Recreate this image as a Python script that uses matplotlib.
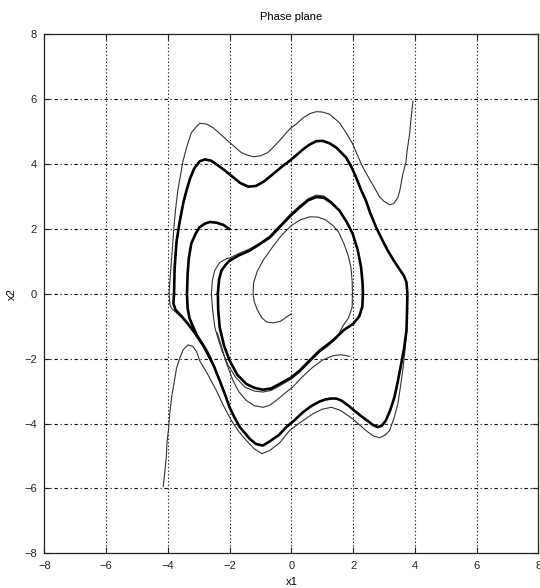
import matplotlib
matplotlib.use('Agg')
import matplotlib.pyplot as plt

# large closed orbit (thick)
big_x1 = [-3.8, -3.78, -3.72, -3.62, -3.5, -3.4, -3.28, -3.15, -2.97, -2.8, -2.6, -2.43, -2.2, -2.0,
          -1.67, -1.4, -1.15, -0.9, -0.6, -0.3, -0.06, 0.2, 0.38, 0.6, 0.81, 1.02, 1.25, 1.46, 1.78,
          1.95, 2.1, 2.25, 2.42, 2.55, 2.75, 2.95, 3.13, 3.32, 3.5, 3.65, 3.73, 3.76, 3.75, 3.73, 3.65,
          3.56, 3.45, 3.34, 3.2, 3.06, 2.93, 2.8, 2.65, 2.53, 2.3, 2.1, 1.85, 1.62, 1.45, 1.29, 1.1,
          0.92, 0.65, 0.38, 0.1, -0.16, -0.4, -0.7, -0.92, -1.15, -1.35, -1.5, -1.67, -1.85, -2.0,
          -2.15, -2.32, -2.5, -2.75, -2.95, -3.18, -3.35, -3.55, -3.75, -3.82, -3.8]
big_x2 = [0.0, 0.8, 1.6, 2.2, 2.8, 3.17, 3.55, 3.85, 4.08, 4.14, 4.1, 3.99, 3.83, 3.68,
          3.42, 3.3, 3.32, 3.45, 3.68, 3.92, 4.09, 4.3, 4.45, 4.6, 4.7, 4.71, 4.63, 4.5, 4.19,
          3.9, 3.58, 3.22, 2.86, 2.5, 2.04, 1.65, 1.32, 1.02, 0.76, 0.55, 0.35, 0.0, -0.5, -1.14, -1.7,
          -2.16, -2.7, -3.19, -3.6, -3.91, -4.07, -4.11, -4.05, -3.96, -3.8, -3.65, -3.45, -3.29, -3.23, -3.23, -3.26,
          -3.32, -3.46, -3.65, -3.9, -4.11, -4.35, -4.55, -4.68, -4.63, -4.47, -4.3, -4.11, -3.8, -3.5,
          -3.1, -2.68, -2.25, -1.75, -1.45, -1.14, -0.93, -0.7, -0.5, -0.3, 0.0]

# inner closed orbit (thick)
inn_x1 = [-2.38, -2.34, -2.26, -2.12, -2.0, -1.7, -1.35, -1.15, -0.7, -0.38, -0.05, 0.27, 0.55, 0.81,
          1.05, 1.3, 1.56, 1.8, 1.99, 2.15, 2.26, 2.31, 2.32, 2.3, 2.2, 2.0, 1.7, 1.46, 1.2, 0.92,
          0.6, 0.27, 0.0, -0.38, -0.65, -0.92, -1.2, -1.46, -1.75, -2.0, -2.18, -2.32, -2.37, -2.38]
inn_x2 = [0.0, 0.45, 0.72, 0.9, 1.02, 1.18, 1.33, 1.45, 1.73, 2.05, 2.38, 2.66, 2.88, 2.98,
          2.96, 2.8, 2.56, 2.2, 1.84, 1.35, 0.81, 0.3, 0.0, -0.4, -0.7, -0.93, -1.12, -1.34, -1.55, -1.75,
          -2.05, -2.37, -2.58, -2.78, -2.92, -2.96, -2.9, -2.78, -2.5, -2.06, -1.6, -1.04, -0.5, 0.0]

# thick trajectory starting at (-2, 2)
t3_x1 = [-2.0, -2.2, -2.43, -2.64, -2.8, -2.97, -3.1, -3.24, -3.32, -3.36, -3.38, -3.36, -3.3, -3.2,
         -3.05, -2.85, -2.6]
t3_x2 = [1.99, 2.12, 2.19, 2.21, 2.16, 2.05, 1.85, 1.55, 1.1, 0.61, 0.0, -0.45, -0.75, -0.98,
         -1.3, -1.6, -2.05]

# thin trajectory from the top right
t1_x1 = [3.94, 3.88, 3.83, 3.75, 3.71, 3.61, 3.52, 3.45, 3.32, 3.18, 3.0, 2.86, 2.75, 2.55, 2.32,
         2.15, 1.99, 1.8, 1.56, 1.24, 1.0, 0.81, 0.6, 0.38, 0.15, -0.06, -0.38, -0.6, -0.76, -1.0,
         -1.22, -1.45, -1.62, -2.0, -2.3, -2.54, -2.75, -2.97, -3.1, -3.24, -3.38, -3.51, -3.6,
         -3.68, -3.75, -3.8, -3.86, -3.92, -3.96, -3.93, -3.88, -3.65, -3.4, -3.18, -2.95]
t1_x2 = [5.94, 5.42, 4.91, 4.4, 4.04, 3.68, 3.2, 2.96, 2.78, 2.74, 2.85, 2.98, 3.17, 3.5, 3.89,
         4.25, 4.61, 4.92, 5.27, 5.53, 5.6, 5.61, 5.55, 5.42, 5.22, 5.07, 4.72, 4.5, 4.35, 4.25,
         4.22, 4.28, 4.35, 4.66, 4.92, 5.12, 5.23, 5.25, 5.12, 4.96, 4.55, 4.09, 3.6,
         3.17, 2.6, 2.09, 1.3, 0.6, 0.0, -0.35, -0.45, -0.65, -0.88, -1.14, -1.45]

# thin trajectory from the bottom left
t2_x1 = [-4.15, -4.1, -4.05, -4.03, -3.98, -3.94, -3.88, -3.8, -3.72, -3.62, -3.5, -3.35, -3.2, -3.07,
         -2.97, -2.7, -2.43, -2.2, -1.94, -1.7, -1.46, -1.2, -0.95, -0.7, -0.38, -0.06, 0.27, 0.7,
         1.0, 1.3, 1.6, 1.99, 2.42, 2.65, 2.86, 3.05, 3.18, 3.32, 3.45, 3.53, 3.61, 3.68, 3.74, 3.76]
t2_x2 = [-5.95, -5.5, -5.04, -4.6, -4.2, -3.7, -3.2, -2.75, -2.3, -2.0, -1.72, -1.58, -1.62, -1.78,
         -2.06, -2.5, -2.98, -3.45, -3.91, -4.25, -4.52, -4.78, -4.93, -4.83, -4.6, -4.22, -3.98, -3.7,
         -3.56, -3.5, -3.6, -3.86, -4.22, -4.38, -4.44, -4.35, -4.22, -3.85, -3.4, -2.9, -2.37, -1.75, -1.14, -0.5]

# thin spiral from the centre
s1_x1 = [0.0, -0.16, -0.35, -0.6, -0.8, -0.95, -1.1, -1.2, -1.24, -1.22, -1.1, -0.9, -0.6, -0.3, 0.0,
         0.3, 0.6, 0.87, 1.1, 1.35, 1.53, 1.7, 1.85, 1.93, 1.97, 1.98, 1.97, 1.85, 1.7, 1.46, 1.2,
         0.92, 0.6, 0.27, 0.0, -0.38, -0.65, -0.92, -1.2, -1.5, -1.8, -2.05, -2.25, -2.4, -2.48,
         -2.55, -2.59, -2.56, -2.48, -2.32, -2.1, -2.0, -1.7, -1.35, -1.0, -0.7, -0.38, -0.05, 0.27,
         0.55, 0.81, 1.05, 1.3]
s1_x2 = [-0.62, -0.72, -0.85, -0.9, -0.87, -0.75, -0.5, -0.25, 0.0, 0.35, 0.7, 1.05, 1.45, 1.82, 2.1,
         2.28, 2.37, 2.36, 2.28, 2.1, 1.9, 1.55, 1.15, 0.81, 0.4, 0.0, -0.42, -0.75, -0.95, -1.38, -1.6,
         -1.8, -2.1, -2.42, -2.63, -2.84, -2.98, -3.03, -3.0, -2.88, -2.58, -2.2, -1.75, -1.3, -1.03,
         -0.5, 0.0, 0.4, 0.72, 0.96, 1.08, 1.1, 1.24, 1.38, 1.57, 1.78, 2.1, 2.43, 2.71,
         2.93, 3.04, 3.01, 2.84]

# thin trajectory ending at (1.9, -1.9)
s3_x1 = [1.89, 1.6, 1.35, 1.0, 0.7, 0.37, 0.05, -0.25, -0.49, -0.72, -0.92, -1.2, -1.46, -1.7,
         -1.89, -2.1, -2.27, -2.4]
s3_x2 = [-1.93, -1.88, -1.91, -2.05, -2.26, -2.55, -2.87, -3.1, -3.29, -3.45, -3.5, -3.45, -3.29, -3.02,
         -2.68, -2.15, -1.6, -1.2]

ticks = [-8, -6, -4, -2, 0, 2, 4, 6, 8]

plt.rcParams['font.family'] = ['Liberation Sans', 'DejaVu Sans']
plt.rcParams['font.size'] = 8

fig = plt.figure(figsize=(5.4, 5.88), dpi=100)
ax = fig.add_axes([0.0822, 0.059, 0.9146, 0.883])

thin = dict(color='#333333', lw=0.8, solid_joinstyle='round', solid_capstyle='round')
thick = dict(color='black', lw=1.9, solid_joinstyle='round', solid_capstyle='round')

ax.plot(t1_x1, t1_x2, **thin)
ax.plot(t2_x1, t2_x2, **thin)
ax.plot(s1_x1, s1_x2, **thin)
ax.plot(s3_x1, s3_x2, **thin)
ax.plot(big_x1, big_x2, **thick)
ax.plot(inn_x1, inn_x2, **thick)
ax.plot(t3_x1, t3_x2, **thick)

ax.set_xlim(-8, 8)
ax.set_ylim(-8, 8)
ax.set_xticks(ticks)
ax.set_yticks(ticks)
ax.set_xticklabels([str(t).replace('-', '\u2212') for t in ticks])
ax.set_yticklabels([str(t).replace('-', '\u2212') for t in ticks])

# MATLAB-like grid: dotted verticals, dash-dot horizontals
for t in ticks[1:-1]:
    ax.axvline(t, color='black', lw=0.8, ls=(0, (1, 2.2)), zorder=0)
    ax.axhline(t, color='black', lw=0.8, ls=(0, (3, 2.5, 1, 2.5)), zorder=0)

ax.tick_params(direction='in', length=4, width=0.8, top=True, right=True, pad=5.5, colors='#222222')
for sp in ax.spines.values():
    sp.set_linewidth(0.9)
    sp.set_color('#222222')

ax.set_title('Phase plane', fontsize=8, pad=10)
ax.set_xlabel('x1', labelpad=4)
ax.set_ylabel('x2', labelpad=5)

plt.savefig('out.png', dpi=100)
